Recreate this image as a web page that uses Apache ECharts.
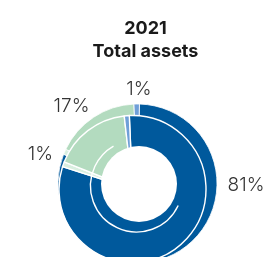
<!DOCTYPE html>
<html>
<head>
<meta charset="utf-8">
<script src="https://cdn.jsdelivr.net/npm/echarts@6/dist/echarts.min.js"></script>
<style>
html,body{margin:0;padding:0;background:#fff;}
#chart{width:267px;height:257px;}
</style>
</head>
<body>
<div id="chart"></div>
<script>
// ---- data ----
const title = '2021';
const subtitle = 'Total assets';
const categories = ['Segment A', 'Segment B', 'Segment C', 'Segment D'];
const values = [80.6, 1.1, 17.2, 1.1];
const valueLabels = ['81%', '1%', '17%', '1%'];
const colors = ['#00599c', '#d9efe0', '#b3dbbf', '#6f9fd8'];

// ---- layout ----
const outerCenter = [137.5, 183.5];
const outerRadius = 79.5;
const innerCenter = [132.5, 189];
const innerRadius = 73.5;
const holeCenter = [139, 184];
const holeRadius = 38;
const labelPos = [[246, 185], [40.5, 154], [71.5, 106.5], [139, 89]];

const seriesData = categories.map((c, i) => ({
  name: c,
  value: values[i],
  itemStyle: { color: colors[i] }
}));

const chart = echarts.init(document.getElementById('chart'), null, { renderer: 'canvas' });
chart.setOption({
  animation: false,
  title: {
    text: title + '\n' + subtitle,
    left: 140.5,
    top: 12,
    textAlign: 'center',
    textStyle: {
      fontFamily: 'Inter',
      fontSize: 18,
      fontWeight: 'bold',
      color: '#1a1a1a',
      lineHeight: 23
    }
  },
  series: [
    {
      type: 'pie',
      z: 2,
      center: outerCenter,
      radius: [0, outerRadius],
      startAngle: 88.6,
      clockwise: true,
      avoidLabelOverlap: false,
      silent: true,
      itemStyle: { borderColor: '#ffffff', borderWidth: 0.8 },
      label: {
        show: true,
        position: 'outside',
        formatter: p => valueLabels[p.dataIndex],
        fontFamily: 'Inter',
        fontWeight: 300,
        fontSize: 19,
        color: '#333333'
      },
      labelLine: { show: false },
      labelLayout: p => ({
        x: labelPos[p.dataIndex][0],
        y: labelPos[p.dataIndex][1],
        align: 'center',
        verticalAlign: 'middle'
      }),
      data: seriesData
    },
    {
      type: 'pie',
      z: 3,
      center: innerCenter,
      radius: [0, innerRadius],
      startAngle: 92.5,
      clockwise: true,
      silent: true,
      itemStyle: { borderColor: '#ffffff', borderWidth: 1.4 },
      label: { show: false },
      labelLine: { show: false },
      data: seriesData
    }
  ],
  graphic: [
    {
      type: 'arc',
      z: 50,
      shape: {
        cx: 136.5, cy: 186, r: 46,
        startAngle: 25 * Math.PI / 180,
        endAngle: 240 * Math.PI / 180,
        clockwise: true
      },
      style: { stroke: '#ffffff', lineWidth: 1.4, fill: null }
    },
    {
      type: 'circle',
      z: 60,
      shape: { cx: holeCenter[0], cy: holeCenter[1], r: holeRadius },
      style: { fill: '#ffffff' }
    }
  ]
});
</script>
</body>
</html>
